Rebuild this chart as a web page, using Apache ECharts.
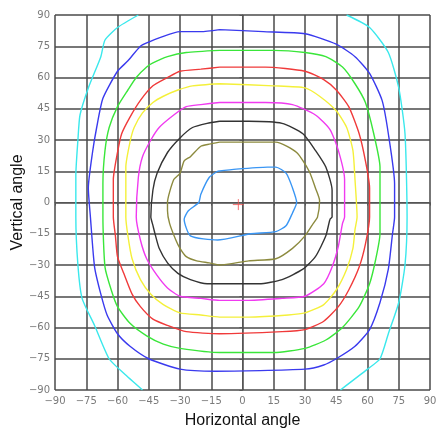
<!DOCTYPE html>
<html><head><meta charset="utf-8">
<script src="https://cdn.jsdelivr.net/npm/echarts@6/dist/echarts.min.js"></script>
<style>html,body{margin:0;padding:0;background:#fff}#c{width:436px;height:436px}</style>
</head><body><div id="c"></div>
<script>
const axisTicks = [-90,-75,-60,-45,-30,-15,0,15,30,45,60,75,90];
const xTitle = 'Horizontal angle';
const yTitle = 'Vertical angle';

const cyanLeft = [[-50,90],[-60,84],[-66,78],[-68,70],[-74,55],[-78,42],[-79,30],[-80,13],[-80,-7],[-79,-30],[-77,-46],[-71,-59],[-64,-75],[-57,-82],[-48,-90]];
const cyanRight = [[50,90],[61,84],[70,72],[75,55],[78,33],[79,-7],[78,-30],[75,-48],[70,-63],[66,-75],[60,-80],[47,-90]];
const blue = [[-11,83],[10,82],[30,81],[45,76],[54,70],[61,62],[67,49],[70,33],[73,9],[73,-7],[72,-15],[70,-32],[66,-48],[61,-61],[54,-69],[45,-75],[39,-78],[30,-80],[-13,-81],[-30,-80],[-45,-75],[-54,-69],[-60,-63],[-65,-54],[-68,-44],[-71,-31],[-73,-7],[-74,7],[-72,24],[-70,36],[-67,50],[-60,63],[-55,68],[-49,75],[-45,77],[-40,79],[-30,82],[-20,82],[-11,83]];
const green = [[-11,73],[15,73],[30,72],[40,70],[48,65],[54,57],[59,48],[63,33],[66,17],[66,-7],[66,-15],[64,-27],[61,-39],[56,-50],[48,-60],[40,-66],[30,-70],[15,-72],[-11,-72],[-30,-70],[-38,-68],[-46,-64],[-54,-58],[-60,-50],[-63,-42],[-66,-31],[-67,-7],[-67,9],[-66,25],[-64,36],[-60,46],[-55,54],[-51,60],[-46,65],[-43,67],[-36,70],[-27,72],[-11,73]];
const red = [[-11,65],[11,65],[30,63],[39,59],[45,54],[51,46],[56,33],[59,20],[61,7],[61,-7],[59,-20],[56,-31],[51,-42],[46,-50],[39,-57],[30,-61],[19,-62],[-11,-63],[-27,-62],[-36,-59],[-43,-56],[-49,-50],[-53,-44],[-57,-34],[-60,-26],[-61,-16],[-62,-7],[-62,11],[-60,24],[-58,33],[-54,41],[-49,49],[-43,56],[-36,60],[-30,63],[-20,64],[-11,65]];
const yellow = [[-11,57],[15,56],[30,55],[37,51],[45,44],[50,36],[53,25],[54,11],[55,-7],[54,-13],[53,-22],[50,-32],[45,-42],[39,-49],[30,-53],[22,-54],[3,-55],[-11,-55],[-20,-54],[-30,-53],[-38,-49],[-44,-44],[-49,-37],[-53,-27],[-55,-16],[-56,-7],[-56,7],[-56,17],[-54,29],[-52,36],[-48,43],[-43,48],[-38,51],[-31,54],[-24,56],[-11,57]];
const magenta = [[-11,48],[11,48],[24,47],[35,42],[42,35],[46,25],[49,11],[49,-7],[48,-10],[46,-21],[43,-31],[39,-39],[30,-45],[19,-46],[2,-47],[-11,-47],[-20,-46],[-30,-45],[-36,-41],[-41,-35],[-46,-27],[-49,-18],[-51,-7],[-50,12],[-48,22],[-44,30],[-40,36],[-33,42],[-27,46],[-20,47],[-11,48]];
const black = [[-11,39],[3,39],[19,38],[29,33],[35,25],[40,17],[43,6],[43,-7],[42,-8],[40,-16],[35,-26],[29,-32],[19,-37],[8,-39],[-11,-39],[-17,-39],[-25,-37],[-31,-34],[-36,-29],[-40,-22],[-42,-15],[-43,-11],[-44,-7],[-43,6],[-41,14],[-36,24],[-30,31],[-24,36],[-17,38],[-11,39]];
const olive = [[-11,29],[3,29],[16,29],[26,24],[32,15],[35,7],[37,1],[36,-7],[34,-10],[30,-16],[24,-22],[16,-27],[3,-28],[-11,-30],[-16,-29],[-22,-28],[-27,-26],[-30,-22],[-32,-18],[-35,-10],[-36,-4],[-36,0],[-33,11],[-30,14],[-28,20],[-25,22],[-20,27],[-16,28],[-11,29]];
const innerBlue = [[-12,15],[-3,16],[12,17],[16,17],[21,14],[24,7],[26,0],[24,-5],[21,-11],[16,-14],[4,-15],[-12,-18],[-25,-16],[-28,-8],[-26,-4],[-21,0],[-20,4],[-16,12],[-12,15]];
const centerMark = [[-2,-1]];

const curves = [
  [cyanLeft,'#3ae8ec'],[cyanRight,'#3ae8ec'],[blue,'#3a3aee'],[green,'#3ae63a'],
  [red,'#f03a3a'],[yellow,'#f4f03a'],[magenta,'#f03af0'],[black,'#333333'],
  [olive,'#8c8a3e'],[innerBlue,'#3a96f4']
];

const fmt = v => String(v).replace('-', '\u2212');
const axisCommon = {
  type:'value', min:-90, max:90, interval:15,
  axisLine:{show:true, lineStyle:{color:'#555', width:1}},
  axisTick:{show:true, length:3, lineStyle:{color:'#555'}},
  splitLine:{show:true, lineStyle:{color:'#4a4a4a', width:1.5}},
  axisLabel:{color:'#7a7a7a', fontFamily:'DejaVu Sans', fontSize:10, formatter:fmt},
  nameTextStyle:{color:'#111', fontFamily:'Liberation Sans', fontSize:16},
  nameMoveOverlap:false
};

const series = curves.map(([d,c]) => ({
  type:'line', data:d, symbol:'none', smooth:0.2, silent:true,
  lineStyle:{color:c, width:1.4}, animation:false
}));
series.push({
  type:'scatter', data:centerMark, symbol:'path://M5,0L5,10M0,5L10,5', symbolSize:11,
  itemStyle:{color:'rgba(0,0,0,0)', borderColor:'#f05050', borderWidth:1}, animation:false
});

const chart = echarts.init(document.getElementById('c'));
chart.setOption({
  animation:false,
  grid:{left:55, right:6, top:15, bottom:46, containLabel:false, outerBoundsMode:'none'},
  xAxis:Object.assign({}, axisCommon, {
    name:xTitle, nameLocation:'middle', nameGap:23,
    axisLabel:Object.assign({}, axisCommon.axisLabel, {margin:6})
  }),
  yAxis:Object.assign({}, axisCommon, {
    name:yTitle, nameLocation:'middle', nameGap:29,
    axisLabel:Object.assign({}, axisCommon.axisLabel, {margin:5})
  }),
  series:series
});
</script></body></html>
